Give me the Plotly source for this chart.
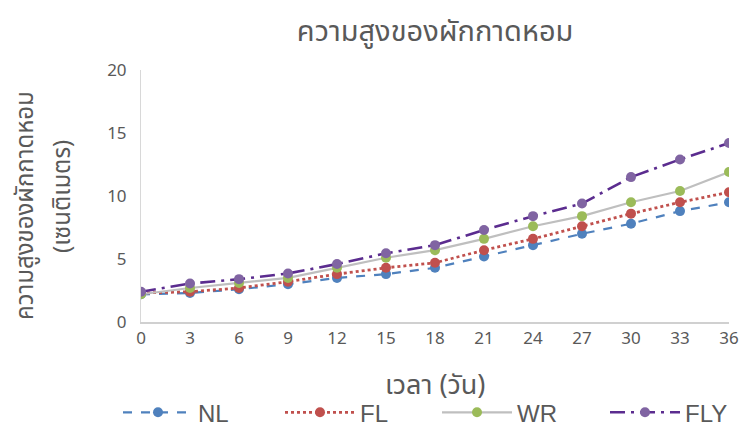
import plotly.graph_objects as go

days = [0, 3, 6, 9, 12, 15, 18, 21, 24, 27, 30, 33, 36]
nl = [2.2, 2.3, 2.6, 3.0, 3.5, 3.8, 4.3, 5.2, 6.1, 7.0, 7.8, 8.8, 9.5]
fl = [2.3, 2.4, 2.7, 3.2, 3.8, 4.3, 4.7, 5.7, 6.6, 7.6, 8.6, 9.5, 10.3]
wr = [2.2, 2.7, 3.1, 3.5, 4.3, 5.1, 5.7, 6.6, 7.6, 8.4, 9.5, 10.4, 11.9]
fly = [2.4, 3.05, 3.4, 3.85, 4.6, 5.45, 6.1, 7.3, 8.4, 9.4, 11.5, 12.9, 14.2]

title = "ความสูงของผักกาดหอม"
ytitle_1 = "ความสูงของผักกาดหอม"
ytitle_2 = "(เซนติเมตร)"
xtitle = "เวลา (วัน)"
gray = "#595959"
font_family = "Noto Sans Thai, Tahoma, Noto Sans, DejaVu Sans, sans-serif"
legend_family = "Liberation Sans Narrow, Liberation Sans, Arial, sans-serif"

fig = go.Figure()
fig.add_trace(go.Scatter(x=days, y=nl, name="NL", mode="lines+markers", legend="legend",
                         line=dict(color="#4F81BD", width=2.2, dash="dash"),
                         marker=dict(color="#4F81BD", size=10)))
fig.add_trace(go.Scatter(x=days, y=fl, name="FL", mode="lines+markers", legend="legend2",
                         line=dict(color="#C0504D", width=2.8, dash="dot"),
                         marker=dict(color="#C0504D", size=10)))
fig.add_trace(go.Scatter(x=days, y=wr, name="WR", mode="lines+markers", legend="legend3",
                         line=dict(color="#BFBFBF", width=2.2),
                         marker=dict(color="#9BBB59", size=10)))
fig.add_trace(go.Scatter(x=days, y=fly, name="FLY", mode="lines+markers", legend="legend4",
                         line=dict(color="#5B2C8F", width=2.6, dash="longdashdot"),
                         marker=dict(color="#8064A2", size=10)))

PLOT_W = 739 - 133 - 18


def leg(screen_x):
    return dict(orientation="h", x=(screen_x - 141) / PLOT_W, xanchor="left",
                y=-0.36, yanchor="middle",
                font=dict(size=24, color=gray, family=legend_family),
                itemwidth=70, bgcolor="rgba(0,0,0,0)")


# the page body adds an 8px margin; the figure is sized so the page does not overflow
fig.update_layout(
    width=739, height=420,
    margin=dict(l=133, r=18, t=62, b=106, autoexpand=False),
    paper_bgcolor="white", plot_bgcolor="white",
    font=dict(family=font_family, color=gray, size=17),
    title=dict(text=title, x=0.578, xanchor="center", y=0.945, yanchor="middle",
               font=dict(size=29, color=gray)),
    xaxis=dict(range=[0, 36], tickvals=days, ticktext=[str(d) for d in days],
               showgrid=False, zeroline=False, showline=True, linecolor="#D0D0D0",
               linewidth=1.5, ticks="", tickfont=dict(size=17, color=gray),
               automargin=False),
    yaxis=dict(range=[0, 20], tickvals=[0, 5, 10, 15, 20], showgrid=False,
               zeroline=False, showline=True, linecolor="#D8D8D8", linewidth=1,
               ticks="", ticklabelstandoff=10, tickfont=dict(size=17, color=gray),
               automargin=False),
    legend=leg(118),
    legend2=leg(280),
    legend3=leg(437),
    legend4=leg(605),
    showlegend=True,
    annotations=[
        dict(text=ytitle_1, xref="paper", yref="paper", x=(26 - 141) / PLOT_W, y=0.46,
             xanchor="center", yanchor="middle", textangle=-90, showarrow=False,
             font=dict(size=24, color=gray)),
        dict(text=ytitle_2, xref="paper", yref="paper", x=(63 - 141) / PLOT_W, y=0.496,
             xanchor="center", yanchor="middle", textangle=-90, showarrow=False,
             font=dict(size=24, color=gray)),
        dict(text=xtitle, xref="paper", yref="paper", x=0.5, y=-0.25,
             xanchor="center", yanchor="middle", showarrow=False,
             font=dict(size=27, color=gray)),
    ],
)

fig.write_html("out.html")
